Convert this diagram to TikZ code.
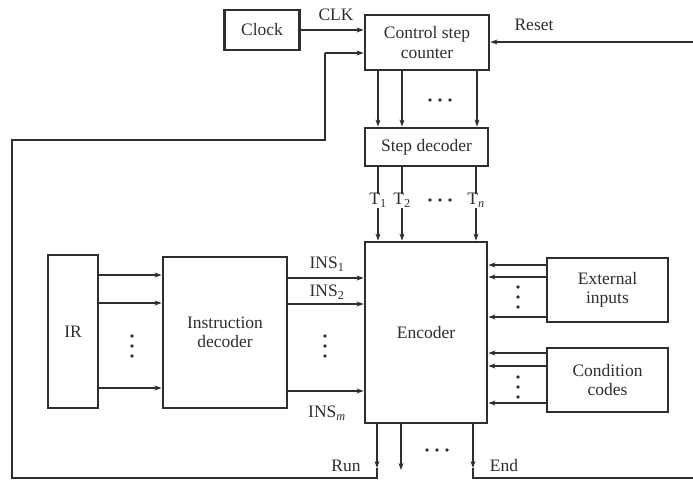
\documentclass[tikz,border=0pt]{standalone}
\usepackage{fontspec}
\setmainfont{Liberation Serif}
\usetikzlibrary{arrows.meta,calc}
\definecolor{ink}{HTML}{2E2E2E}
\begin{document}
\begin{tikzpicture}[x=1pt,y=-1pt,
  font=\fontsize{17.5}{19.5}\selectfont,
  blk/.style={draw=ink,line width=2.8pt,fill=white,inner sep=2pt,align=center,text=ink},
  wire/.style={draw=ink,line width=1.8pt},
  arr/.style={wire,-{Stealth[length=7pt,width=5pt]}},
  lbl/.style={text=ink,inner sep=1pt},
  dot/.style={circle,fill=ink,inner sep=0pt,minimum size=3.6pt}]
\useasboundingbox (0,0) rectangle (693,482);
% blocks
\node[blk,minimum width=75,minimum height=40] (clock) at (262,30) {Clock};
\node[blk,minimum width=124,minimum height=55] (csc) at (427,42.5) {Control step\\counter};
\node[blk,minimum width=123,minimum height=38] (sd) at (426.5,147) {Step decoder};
\node[blk,minimum width=122,minimum height=181] (enc) at (426,332.5) {Encoder};
\node[blk,minimum width=50,minimum height=153] (ir) at (73,331.5) {IR};
\node[blk,minimum width=124,minimum height=151] (id) at (225,332.5) {Instruction\\decoder};
\node[blk,minimum width=121,minimum height=64] (ext) at (607.5,290) {External\\inputs};
\node[blk,minimum width=121,minimum height=64] (cond) at (607.5,380) {Condition\\codes};
% labels
\node[lbl] (clk) at (336,15) {CLK};
\node[lbl] (reset) at (534,25) {Reset};
\node[lbl] (t1) at (378,200) {T\textsubscript{1}};
\node[lbl] (t2) at (402,200) {T\textsubscript{2}};
\node[lbl] (tn) at (476,200) {T\textsubscript{\itshape n}};
\node[lbl] (ins1) at (327,264) {INS\textsubscript{1}};
\node[lbl] (ins2) at (327,292) {INS\textsubscript{2}};
\node[lbl] (insm) at (327,413) {INS\textsubscript{\itshape m}};
\node[lbl] (run) at (346,466) {Run};
\node[lbl] (end) at (504,466) {End};
% coordinates
\coordinate (runb) at (377,468);
\coordinate (midb) at (401,470);
\coordinate (endb) at (473,468);
\coordinate (runc) at (377,478);
\coordinate (endc) at (473,478);
\coordinate (fbl) at (12,478);
\coordinate (fbt) at (12,140);
\coordinate (fbr) at (325,140);
\coordinate (fbin) at (325,53);
\coordinate (rsto) at (693,478);
\coordinate (rsti) at (693,42);
% clock and reset
\draw[arr] (clock.east) -- (clock.east -| csc.west);
\draw[arr] (rsti) -- (rsti -| csc.east);
\draw[wire] (endb) -- (endc) -- (rsto);
% feedback from Run
\draw[wire] (runb) -- (runc) -- (fbl) -- (fbt) -- (fbr) -- (fbin);
\draw[arr] (fbin) -- (fbin -| csc.west);
% counter to step decoder
\foreach \x in {378,402,477}
  \draw[arr] (csc.south -| \x,0) -- (sd.north -| \x,0);
% step decoder to encoder
\foreach \t in {t1,t2,tn}{
  \draw[wire] (sd.south -| \t) -- ([yshift=-2pt]\t.north);
  \draw[arr] (\t.south) -- (enc.north -| \t);
}
% encoder outputs
\draw[arr] (enc.south -| runb) -- (runb);
\draw[arr] (enc.south -| midb) -- (midb);
\draw[arr] (enc.south -| endb) -- (endb);
% IR to instruction decoder
\foreach \y in {275,303,388}
  \draw[arr] (ir.east |- 0,\y) -- (id.west |- 0,\y);
% instruction decoder to encoder
\foreach \y in {278,304,391}
  \draw[arr] (id.east |- 0,\y) -- (enc.west |- 0,\y);
% external inputs and condition codes
\foreach \y in {265,277,317}
  \draw[arr] (ext.west |- 0,\y) -- (enc.east |- 0,\y);
\foreach \y in {353,366,403}
  \draw[arr] (cond.west |- 0,\y) -- (enc.east |- 0,\y);
% dots
\foreach \x in {430,440,450} \node[dot] at (\x,100) {};
\foreach \x in {430,440,450} \node[dot] at (\x,200) {};
\foreach \x in {427,437,447} \node[dot] at (\x,450) {};
\foreach \y in {336,346,356} {\node[dot] at (132,\y) {}; \node[dot] at (325,\y) {};}
\foreach \y in {287,297,307} \node[dot] at (518,\y) {};
\foreach \y in {377,387,397} \node[dot] at (518,\y) {};
\end{tikzpicture}
\end{document}
